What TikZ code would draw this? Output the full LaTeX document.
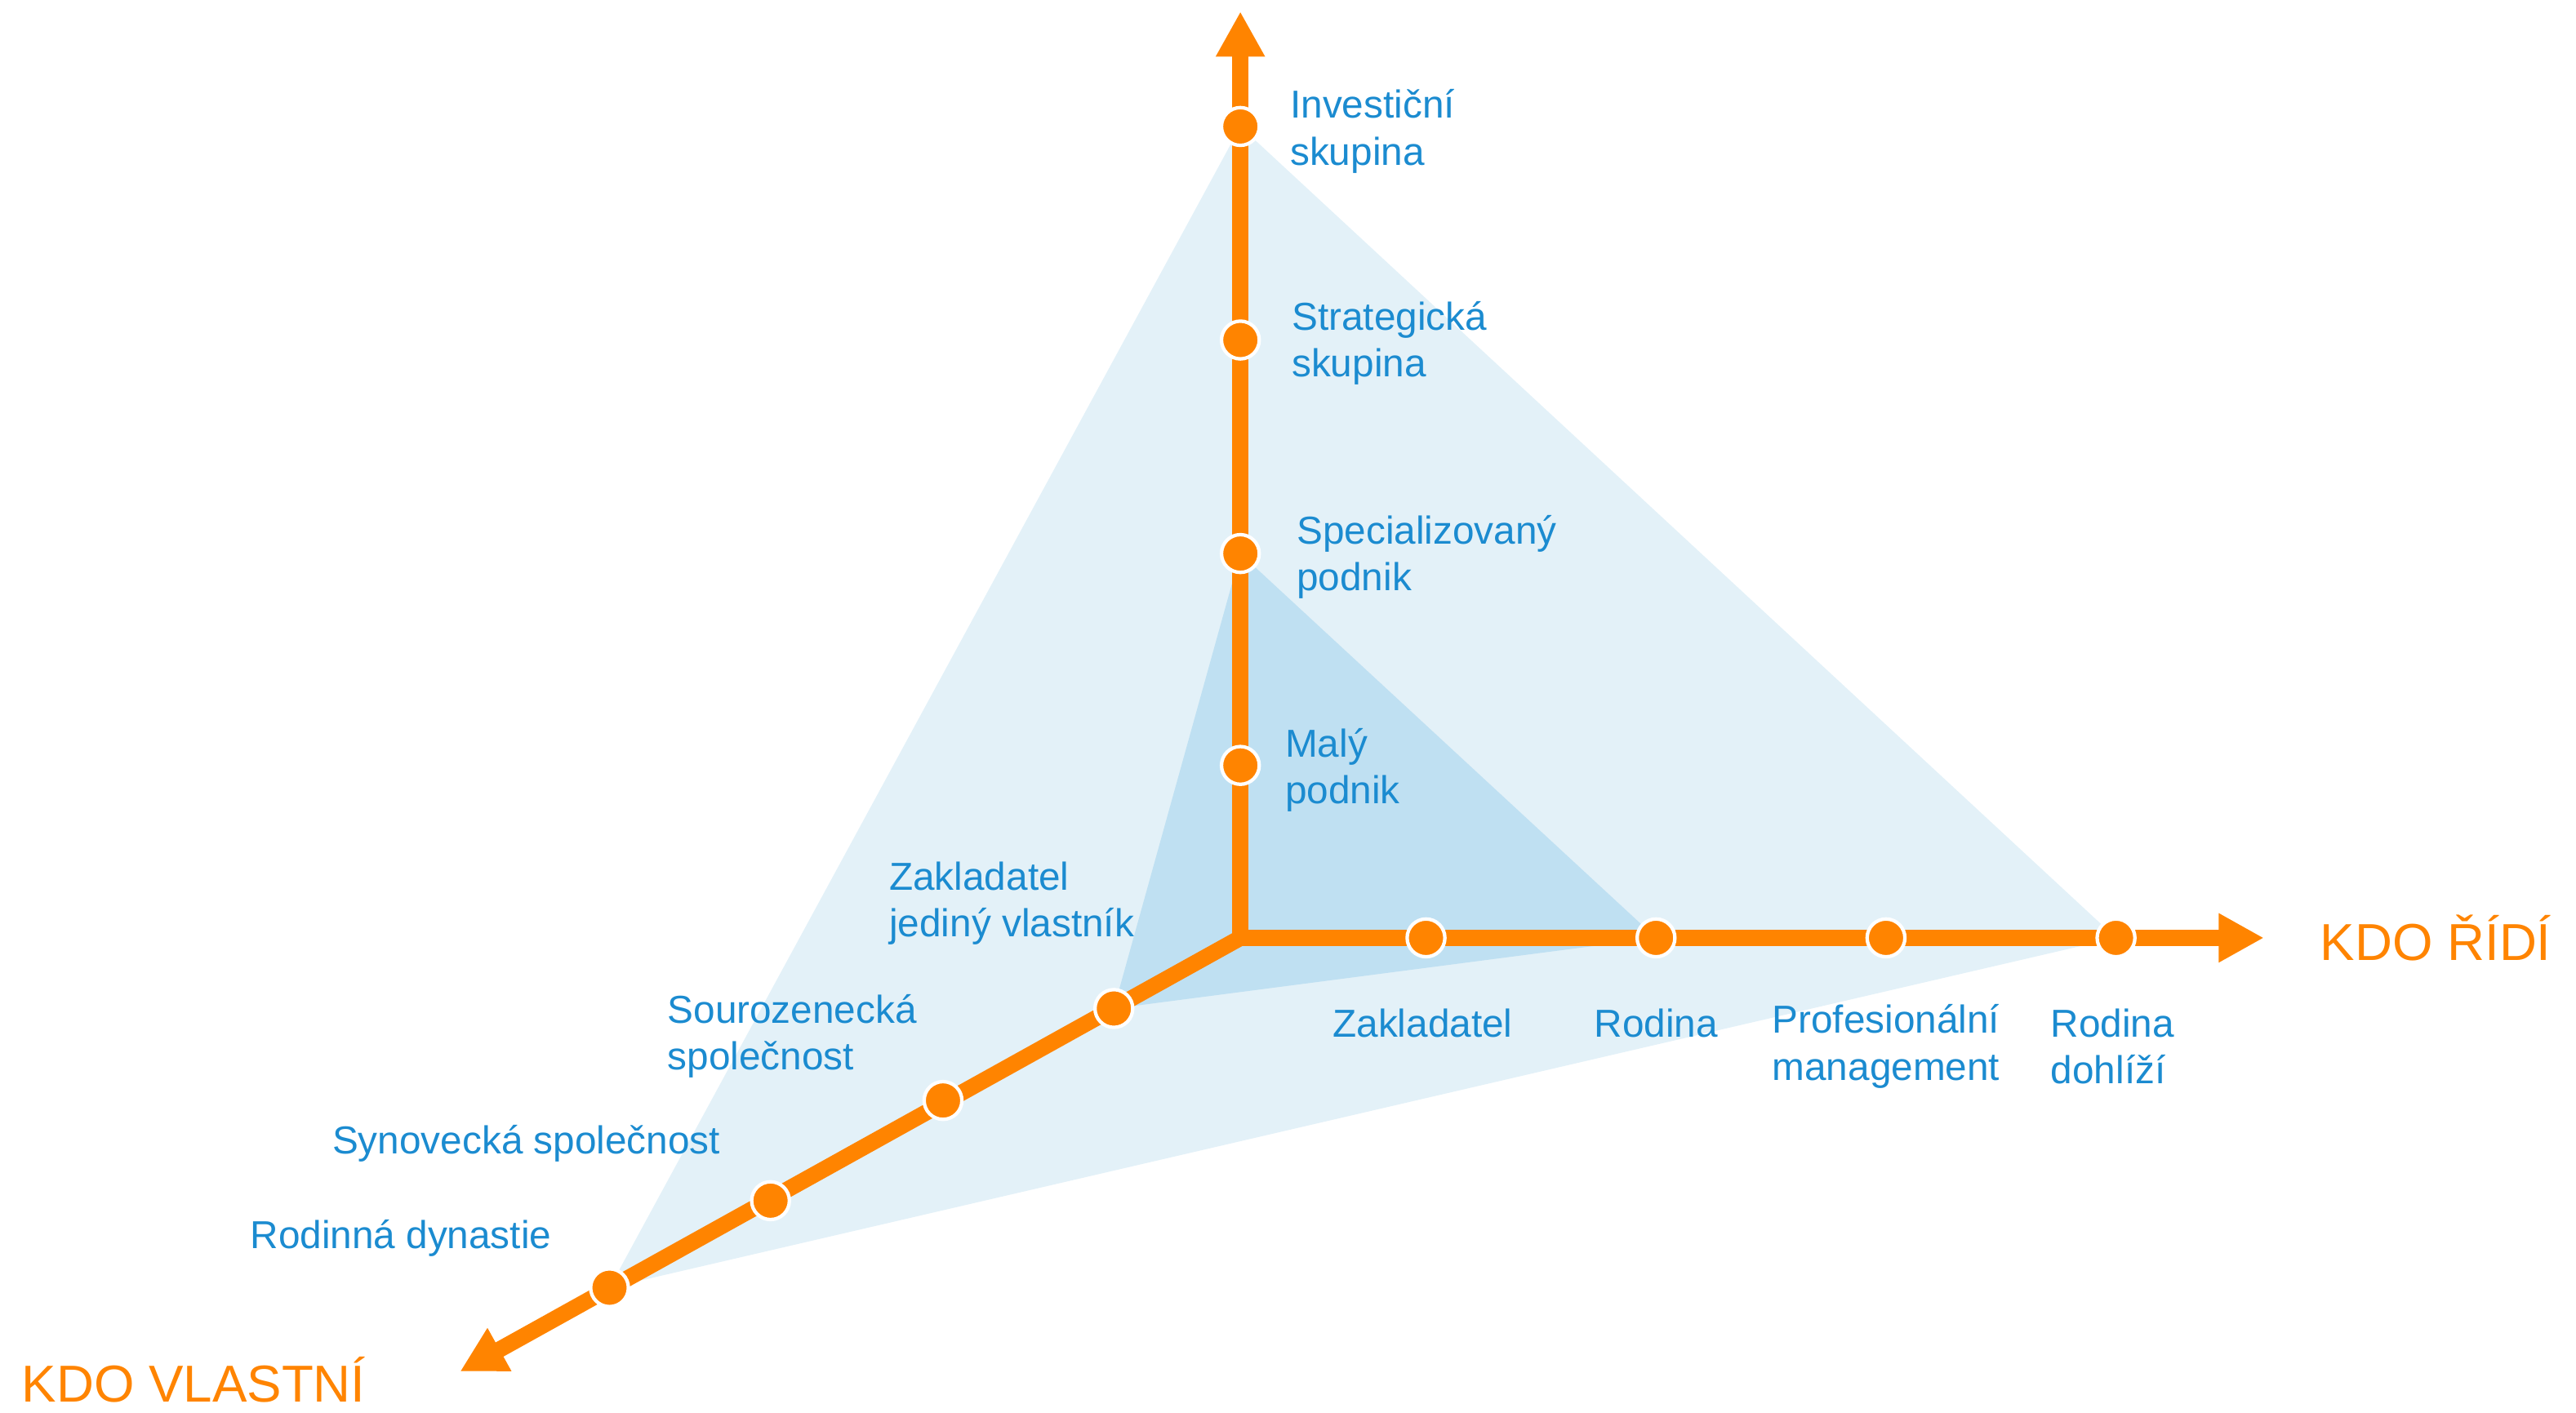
\documentclass[tikz,border=0pt]{standalone}
\usepackage{fontspec}
\setmainfont{Liberation Sans}
\usetikzlibrary{arrows.meta}

\definecolor{kdoorange}{RGB}{255,132,0}
\definecolor{kdoblue}{RGB}{27,139,208}
\definecolor{lightfill}{RGB}{227,241,248}
\definecolor{darkfill}{RGB}{191,224,242}

\tikzset{
  >={Triangle[length=0.55cm,width=0.56cm]},
  axis/.style={kdoorange, line width=5.6pt, line join=miter},
  dot/.style={circle, fill=kdoorange, draw=white, line width=1.2pt, inner sep=0pt, minimum size=0.46cm},
  lbl/.style={text=kdoblue, font=\fontsize{13.5}{16.2}\selectfont, inner sep=0pt, align=left, anchor=west},
  axistitle/.style={text=kdoorange, font=\fontsize{18}{21}\selectfont, inner sep=0pt, anchor=west}
}

\begin{document}
\begin{tikzpicture}[x=0.02cm, y=-0.02cm]
    \useasboundingbox (0,0) rectangle (1568,860);

    \coordinate (O) at (755,571);
    \coordinate (vtip) at (755,7);
    \coordinate (htip) at (1378,571);
    \coordinate (dtip) at (280,835);

    \foreach \name/\pos in {inv/{755,77}, str/{755,207}, spe/{755,337}, mal/{755,466},
        zak/{868,571}, rod/{1008,571}, pro/{1148,571}, doh/{1288,571},
        jed/{678,614}, sou/{574,670}, syn/{469,731}, dyn/{371,784}}
        \coordinate (\name) at (\pos);

    % triangles
    \fill[lightfill] (inv) -- (doh) -- (dyn) -- cycle;
    \fill[darkfill] (spe) -- (rod) -- (jed) -- cycle;

    % axes
    \draw[axis, ->] (O) -- (dtip);
    \draw[axis, <->] (vtip) -- (O) -- (htip);

    \foreach \name in {inv,str,spe,mal,zak,rod,pro,doh,jed,sou,syn,dyn}
        \node[dot] (\name dot) at (\name) {};

    \foreach \name/\pos/\txt in {inv/{785,80}/{Investiční\\skupina},
        str/{786,209}/{Strategická\\skupina},
        spe/{789,339}/{Specializovaný\\podnik},
        mal/{782,469}/{Malý\\podnik},
        jed/{541,550}/{Zakladatel\\jediný vlastník},
        sou/{406,631}/{Sourozenecká\\společnost},
        syn/{202,696}/{Synovecká společnost},
        dyn/{152,754}/{Rodinná dynastie},
        doh/{1248,637}/{Rodina\\dohlíží}}
    {
        \node[lbl] (\name lbl) at (\pos) {\txt};
    }

    \node[lbl, anchor=center] (zaklbl) at (866,623) {Zakladatel};
    \node[lbl, anchor=center] (rodlbl) at (1008,623) {Rodina};
    \node[lbl, anchor=center, align=center] (prolbl) at (1148,637) {Profesionální\\management};

    \node[axistitle] (ridi) at (1412,571) {KDO ŘÍDÍ};
    \node[axistitle] (vlastni) at (13,840) {KDO VLASTNÍ};
\end{tikzpicture}
\end{document}
